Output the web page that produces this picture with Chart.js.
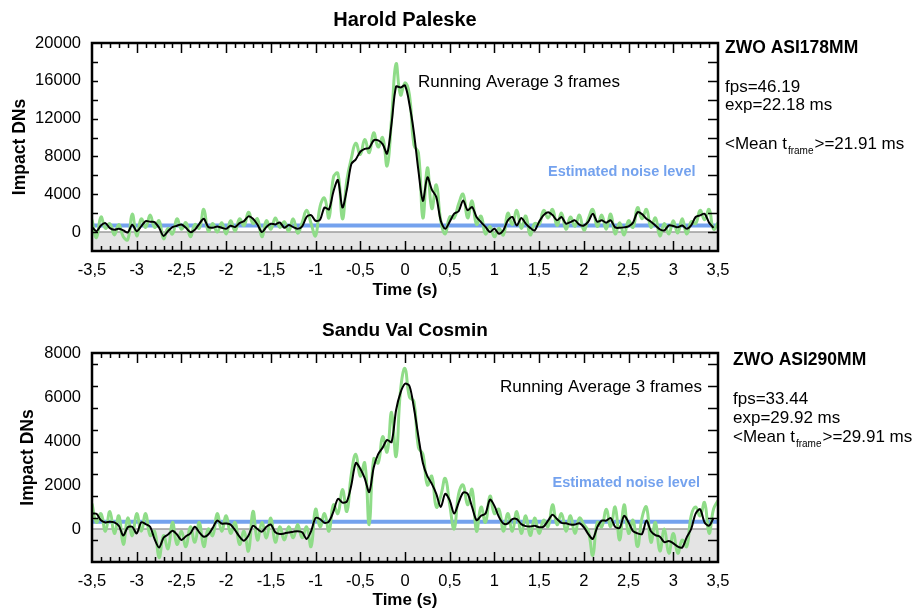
<!DOCTYPE html>
<html>
<head>
<meta charset="utf-8">
<script src="https://cdn.jsdelivr.net/npm/chart.js@4.4.0/dist/chart.umd.min.js"></script>
<style>
html, body { margin: 0; padding: 0; background: #fff; width: 917px; height: 612px; overflow: hidden; }
canvas { position: absolute; left: 0; }
#top { top: 0; }
#bottom { top: 306px; }
</style>
</head>
<body>
<canvas id="top" width="917" height="306"></canvas>
<canvas id="bottom" width="917" height="306"></canvas>
<script>
// time grid: -3.5 s .. 3.5 s every 0.05 s
const T0 = -3.5
const DT = 0.05

// Harold Paleske, ZWO ASI178MM
const paleskeAvg = [
  530, 100, 700, 950, 420, 250, 350, 180, -30, 780,
  100, 600, 1160, 1100, 1060, 460, -400, 100, 530, 670,
  810, 460, 0, 250, 880, 1410, 530, 460, 600, 460,
  350, 670, 530, 950, 1160, 1660, 1410, 810, 0, 530,
  880, 810, 1020, 460, 740, 530, 350, 600, 1600, 1800,
  1200, 1300, 2600, 2400, 4300, 5500, 2600, 4500, 7200, 7700,
  8500, 8800, 8900, 9700, 9700, 9300, 8300, 11500, 15400, 15300,
  15500, 13500, 10500, 6500, 3300, 5800, 4500, 3700, 1200, 350,
  1100, 1950, 2200, 3350, 2300, 2650, 1600, 1060, 550, 0,
  350, -180, 200, 1240, 1600, 700, 1500, 900, 450, 180,
  1100, 1800, 2100, 1800, 1240, 1590, 900, 1060, 1240, 800,
  700, 1100, 1940, 1100, 1240, 1000, 1240, 500, 450, 500,
  600, 1000, 2100, 1900, 1400, 1100, 700, 300, 180, 700,
  650, 500, 700, 350, 700, 1600, 1770, 1940, 1000, 450,
  null
]
const paleskeRaw = [
  1300, -600, 1600, 400, 900, -300, 800, -500, -800, 1900,
  -400, 1400, 500, 1800, 500, 1200, -700, 400, -200, 1400,
  300, 1000, -500, 800, 400, 2400, 100, 900, 0, 1000,
  -200, 1200, 100, 1400, 700, 2100, 900, 1400, -500, 1200,
  300, 1500, 500, 1100, 100, 1400, -100, 1000, 2300, 900,
  -400, 2700, 3600, 1500, 5800, 6200, 1400, 5500, 7800, 9400,
  8200, 9800, 8400, 10500, 9000, 10000, 7000, 12000, 17800, 14500,
  15800, 14500, 9200, 8400, 1500, 6800, 2500, 5000, 1200, -200,
  1600, 1500, 3000, 4000, 1500, 3300, 800, 1700, -200, 600,
  -500, 400, -300, 2000, 800, 2300, 400, 1700, -300, 900,
  800, 2300, 1500, 2400, 700, 2000, 300, 1600, 600, 1800,
  200, 1400, 2400, 600, 1800, 300, 1900, -200, 1000, -300,
  1200, 500, 2600, 1400, 2400, 500, 1500, -400, 900, -200,
  1200, -100, 1400, -200, 1100, 900, 2300, 1300, 2400, 300,
  1000
]
const paleskeNoise = 700
const paleskeYLabels = [0, 4000, 8000, 12000, 16000, 20000]

// Sandu Val Cosmin, ZWO ASI290MM
const cosminAvg = [
  700, 690, 400, 300, 330, 300, 150, -300, 80, 100,
  -200, 300, 220, 100, -460, -840, -400, -250, -80, -250,
  -500, -330, -200, 100, -150, -350, -250, 50, 380, 250,
  250, 200, -50, -350, -530, -300, 150, 0, -120, 100,
  200, -150, -230, -200, -160, -120, -100, -150, -450, -100,
  500, 450, 280, 350, 800, 1370, 1200, 1250, 2000, 3000,
  2740, 2300, 1680, 2800, 3400, 3700, 4050, 3950, 5400, 6200,
  6600, 6500, 5500, 4200, 3000, 2400, 2050, 1600, 1000, 1600,
  1300, 700, 1200, 1650, 1600, 1000, 400, 600, 700, 1330,
  1050, 550, 250, 250, 450, 450, 220, 130, 110, 150,
  80, 110, 380, 650, 450, 280, 260, 200, 200, 260,
  80, -230, -450, 80, 380, 380, 500, 100, 50, 600,
  300, -100, -200, -230, 380, -100, -280, -350, -600, -550,
  -650, -800, -840, -380, 0, 700, 900, 300, 150, 500,
  null
]
const cosminRaw = [
  1150, 300, 700, -100, 800, -200, 600, -700, 500, -300,
  700, -100, 700, -300, -100, -1300, -300, -900, 300, -700,
  -100, -800, 100, -600, 300, -800, 0, -300, 700, -100,
  600, -200, 300, -700, -100, -1000, 800, -500, 300, -400,
  500, -600, 100, -500, 100, -400, 200, -400, 100, -800,
  900, 100, 700, -100, 1100, 700, 1800, 800, 2500, 3400,
  2400, 3000, 200, 3200, 3000, 4200, 3500, 5300, 3300, 6300,
  7300, 6000, 5800, 3700, 3400, 2000, 2400, 1000, 1500, 2300,
  1100, 0, 1600, 2000, 1100, 1800, -100, 1000, 300, 1500,
  700, 900, -100, 700, -100, 800, -200, 600, -300, 500,
  -200, 400, 100, 1100, 200, 700, -100, 600, -200, 500,
  200, -100, -1200, 300, 100, 900, 100, 1000, -500, 1100,
  -200, 400, -800, 500, 1000, -600, 300, -1000, 0, -1100,
  -200, -1100, -500, -800, 600, 1000, 600, 1200, -200, 900,
  1300
]
const cosminNoise = 330
const cosminYLabels = [0, 2000, 4000, 6000, 8000]

const FONT = '"Liberation Sans", Arial, sans-serif'
const GREEN = '#8fdc88'
const BLUE = '#74a2ee'

const toPoints = arr => arr.map((v, i) => ({ x: T0 + i * DT, y: v }))

function txt(ctx, s, x, y, font, color, align, base) {
  ctx.font = font
  ctx.fillStyle = color || '#000'
  ctx.textAlign = align || 'left'
  ctx.textBaseline = base || 'alphabetic'
  ctx.fillText(s, x, y)
}

function meanText(ctx, x, y, val) {
  ctx.font = `17px ${FONT}`
  ctx.fillStyle = '#000'
  ctx.textAlign = 'left'
  ctx.textBaseline = 'alphabetic'
  ctx.fillText('<Mean t', x, y)
  let w = ctx.measureText('<Mean t').width + 1
  ctx.font = `10px ${FONT}`
  ctx.fillText('frame', x + w, y + 5)
  w += ctx.measureText('frame').width + 1
  ctx.font = `17px ${FONT}`
  ctx.fillText('>=' + val + ' ms', x + w, y)
}

const framePlugin = info => ({
  id: 'frame',
  beforeDatasetsDraw(chart) {
    const { ctx, chartArea: a, scales: { y } } = chart
    const y0 = y.getPixelForValue(0)
    ctx.save()
    ctx.fillStyle = '#e4e4e4'
    ctx.fillRect(a.left, y0, a.right - a.left, a.bottom - y0)
    ctx.strokeStyle = '#9c9c9c'
    ctx.lineWidth = 1.5
    ctx.beginPath()
    ctx.moveTo(a.left, y0)
    ctx.lineTo(a.right, y0)
    ctx.stroke()
    ctx.restore()
  },
  afterDatasetsDraw(chart) {
    const { ctx, chartArea: a, scales: { x, y } } = chart
    ctx.save()
    ctx.strokeStyle = '#000'
    ctx.lineWidth = 1.5
    ctx.beginPath()
    // x ticks, minor every 0.1, major every 0.5, on top and bottom, inward
    for (let k = -34; k <= 34; k++) {
      const px = Math.round(x.getPixelForValue(k / 10)) + 0.5
      const len = k % 5 === 0 ? 10 : 5
      ctx.moveTo(px, a.bottom); ctx.lineTo(px, a.bottom - len)
      ctx.moveTo(px, a.top); ctx.lineTo(px, a.top + len)
    }
    // y ticks
    for (let v = info.yMin + info.yStep; v < info.yMax; v += info.yStep) {
      const py = Math.round(y.getPixelForValue(v)) + 0.5
      ctx.moveTo(a.left, py); ctx.lineTo(a.left + 6, py)
      ctx.moveTo(a.right, py); ctx.lineTo(a.right - 10, py)
    }
    ctx.stroke()
    ctx.lineWidth = 2.5
    ctx.strokeRect(a.left, a.top, a.right - a.left, a.bottom - a.top)

    txt(ctx, info.title, (a.left + a.right) / 2, info.titleY, `bold ${info.titleSize}px ${FONT}`, '#000', 'center', 'middle')
    txt(ctx, 'Time (s)', (a.left + a.right) / 2, info.timeY, `bold 17px ${FONT}`, '#000', 'center', 'middle')
    ctx.save()
    ctx.translate(info.dnX, (a.top + a.bottom) / 2)
    ctx.rotate(-Math.PI / 2)
    txt(ctx, 'Impact DNs', 0, 0, `bold 17.5px ${FONT}`, '#000', 'center', 'middle')
    ctx.restore()

    txt(ctx, 'Running Average 3 frames', info.runX, info.runY, `17px ${FONT}`)
    txt(ctx, 'Estimated noise level', info.noiseX, info.noiseY, `bold 14.5px ${FONT}`, BLUE)
    txt(ctx, info.camera, info.textX, info.camY, `bold 17.5px ${FONT}`)
    txt(ctx, info.fps, info.textX, info.fpsY, `17px ${FONT}`)
    txt(ctx, info.exp, info.textX, info.fpsY + 18.7, `17px ${FONT}`)
    meanText(ctx, info.textX, info.meanY, info.mean)
    ctx.restore()
  }
})

function makeChart(el, avg, raw, noise, yLabels, info) {
  return new Chart(document.getElementById(el), {
    type: 'line',
    data: {
      datasets: [
        { data: toPoints(avg), borderColor: '#000', borderWidth: 2, pointRadius: 0, tension: 0.3 },
        { data: toPoints(raw), borderColor: GREEN, borderWidth: 3, pointRadius: 0, tension: 0.45 },
        { data: [{ x: T0, y: noise }, { x: -T0, y: noise }], borderColor: BLUE, borderWidth: 4, pointRadius: 0 }
      ]
    },
    options: {
      responsive: false,
      animation: false,
      layout: { padding: { top: info.padTop, right: 199, left: 0, bottom: 0 } },
      plugins: { legend: { display: false }, tooltip: { enabled: false }, title: { display: false } },
      scales: {
        x: {
          type: 'linear',
          min: -3.5,
          max: 3.5,
          grid: { display: false, drawTicks: false },
          border: { display: false },
          afterFit: s => { s.height = info.xHeight },
          ticks: {
            stepSize: 0.5,
            autoSkip: false,
            maxRotation: 0,
            padding: 10,
            color: '#000',
            font: { family: FONT, size: 16.5 },
            callback: v => String(v).replace('.', ',')
          }
        },
        y: {
          min: info.yMin,
          max: info.yMax,
          grid: { display: false, drawTicks: false },
          border: { display: false },
          afterFit: s => { s.width = 92 },
          afterBuildTicks: s => { s.ticks = yLabels.map(v => ({ value: v })) },
          ticks: {
            padding: 11,
            color: '#000',
            font: { family: FONT, size: 16.5 },
            callback: v => String(v)
          }
        }
      }
    },
    plugins: [framePlugin(info)]
  })
}

makeChart('top', paleskeAvg, paleskeRaw, paleskeNoise, paleskeYLabels, {
  padTop: 43, xHeight: 55, yMin: -2000, yMax: 20000, yStep: 2000,
  title: 'Harold Paleske', titleSize: 20, titleY: 20, timeY: 290, dnX: 20,
  runX: 418, runY: 87, noiseX: 548, noiseY: 176,
  camera: 'ZWO ASI178MM', textX: 725, camY: 52.5, fps: 'fps=46.19', exp: 'exp=22.18 ms',
  fpsY: 91.5, meanY: 149, mean: '21.91'
})

makeChart('bottom', cosminAvg, cosminRaw, cosminNoise, cosminYLabels, {
  padTop: 47, xHeight: 50, yMin: -1500, yMax: 8000, yStep: 1000,
  title: 'Sandu Val Cosmin', titleSize: 19, titleY: 24.5, timeY: 294, dnX: 28,
  runX: 500, runY: 85.5, noiseX: 552.5, noiseY: 180.5,
  camera: 'ZWO ASI290MM', textX: 733, camY: 59, fps: 'fps=33.44', exp: 'exp=29.92 ms',
  fpsY: 98.3, meanY: 136.3, mean: '29.91'
})
</script>
</body>
</html>
